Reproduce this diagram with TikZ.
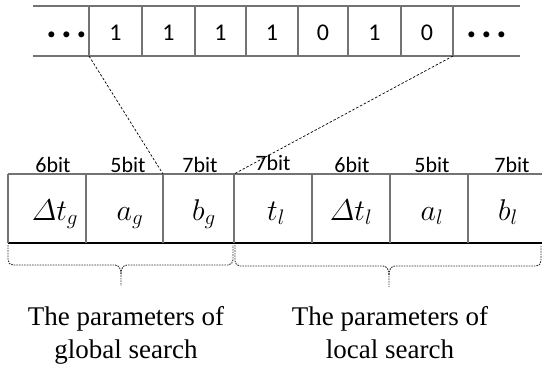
\RequirePackage{fix-cm}
\documentclass[tikz,border=0pt]{standalone}
\usepackage{amsmath}
\usepackage{fontspec}
\setmainfont{Liberation Serif}
\newfontfamily\carlitofont{Carlito}
\begin{document}
\begin{tikzpicture}[x=1pt,y=-1pt,
  gridline/.style={draw=black!55,line width=1.1pt},
  darkline/.style={draw=black,line width=1.1pt},
  digit/.style={font=\carlitofont\fontsize{24}{28}\selectfont,inner sep=0pt},
  dots/.style={font=\carlitofont\bfseries\fontsize{40}{44}\selectfont,inner sep=0pt,anchor=base},
  bitlabel/.style={font=\carlitofont\fontsize{22}{26}\selectfont,inner sep=0pt,anchor=base},
  param/.style={font=\fontsize{30}{36}\selectfont,inner sep=0pt,anchor=base},
  caption/.style={font=\fontsize{27}{33}\selectfont,inner sep=0pt,align=center,anchor=base},
  link/.style={draw=black,line width=0.7pt,dash pattern=on 2.5pt off 1.8pt},
  bracepath/.style={draw=black!80,line width=0.9pt,dash pattern=on 1.6pt off 1pt}]
\useasboundingbox (0,0) rectangle (542,365);
% ---- top strip ----
\draw[gridline] (33,6) -- (520,6);
\draw[gridline] (33,56) -- (520,56);
\foreach \x in {89,142,195,246,298,348,401,453}{\draw[gridline] (\x,6) -- (\x,56);}
\node[dots] (ldots) at (67,37) {.\kern4pt.\kern4pt.};
\node[dots] (rdots) at (487,37) {.\kern4pt.\kern4pt.};
\node[digit] (d1) at (115.5,33) {1};
\node[digit] (d2) at (168.5,33) {1};
\node[digit] (d3) at (220.5,33) {1};
\node[digit] (d4) at (272,33) {1};
\node[digit] (d5) at (323,33) {0};
\node[digit] (d6) at (374.5,33) {1};
\node[digit] (d7) at (427,33) {0};
\coordinate (s1) at (89,56);
\coordinate (s2) at (453,56);
% ---- bottom row ----
\draw[gridline] (8,174) -- (542,174);
\draw[darkline] (8,243) -- (542,243);
\foreach \x in {8,86,163,234,312,390,468}{\draw[gridline] (\x,174) -- (\x,243);}
\coordinate (c2) at (163,174);
\coordinate (c3) at (234,174);
\node[bitlabel] (l1) at (53,172) {6bit};
\node[bitlabel] (l2) at (128,172) {5bit};
\node[bitlabel] (l3) at (200,172) {7bit};
\node[bitlabel] (l4) at (273,170) {7bit};
\node[bitlabel] (l5) at (352,172) {6bit};
\node[bitlabel] (l6) at (432,172) {5bit};
\node[bitlabel] (l7) at (512,172) {7bit};
\node[param] (p1) at (55,220) {$\varDelta t_g$};
\node[param] (p2) at (130,220) {$a_g$};
\node[param] (p3) at (204,220) {$b_g$};
\node[param] (p4) at (276,220) {$t_l$};
\node[param] (p5) at (351,220) {$\varDelta t_l$};
\node[param] (p6) at (432,220) {$a_l$};
\node[param] (p7) at (508,220) {$b_l$};
% ---- dashed links ----
\draw[link] (s1) -- (c2);
\draw[link] (s2) -- (c3);
% ---- braces ----
\draw[bracepath] (8,245) -- (8,260) to[out=-90,in=180] (13,265) -- (115,265)
  to[out=0,in=90] (121,274) -- (121,286);
\draw[bracepath] (121,274) to[out=90,in=180] (127,265) -- (228,265)
  to[out=0,in=-90] (233,260) -- (233,245);
\draw[bracepath] (235,245) -- (235,261) to[out=-90,in=180] (240,266) -- (383,266)
  to[out=0,in=90] (389,275) -- (389,287);
\draw[bracepath] (389,275) to[out=90,in=180] (395,266) -- (536,266)
  to[out=0,in=-90] (541,261) -- (541,245);
% ---- captions ----
\node[caption] (g) at (126,358) {The parameters of\\global search};
\node[caption] (lo) at (390,358) {The parameters of\\local search};
\end{tikzpicture}
\end{document}
